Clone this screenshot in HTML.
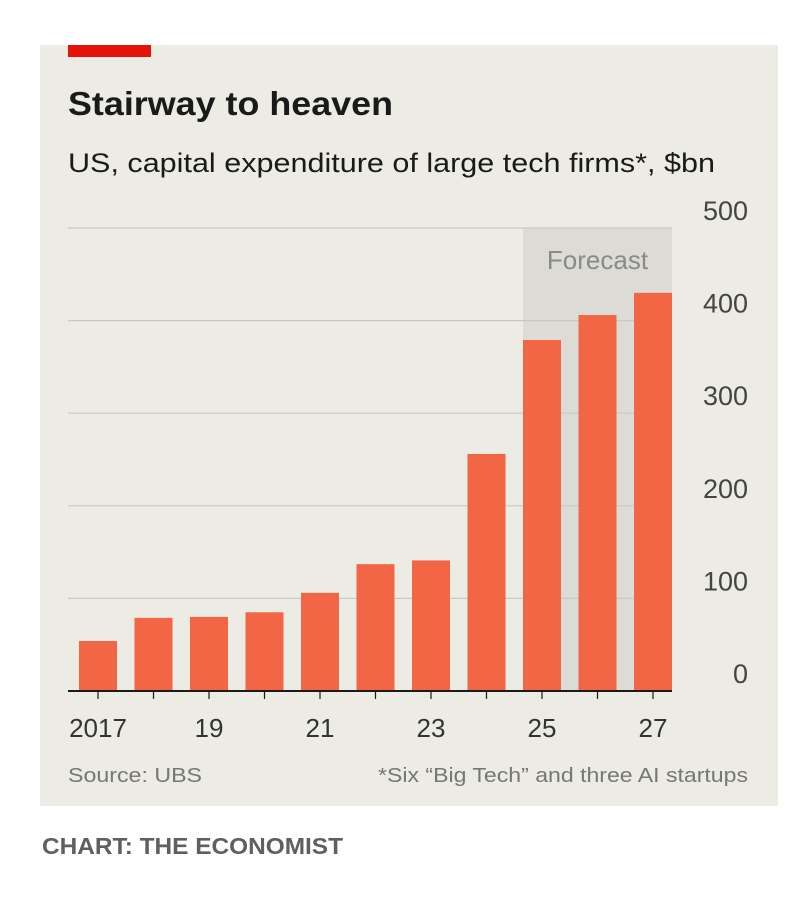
<!DOCTYPE html>
<html><head><meta charset="utf-8"><style>
body{margin:0;background:#fff;width:810px;height:894px;overflow:hidden;font-family:"Liberation Sans",sans-serif}
</style></head><body>
<svg width="810" height="894" xmlns="http://www.w3.org/2000/svg">
<rect x="40" y="45" width="738" height="761" fill="#ecebe4"/>
<rect x="68" y="45" width="83" height="12" fill="#e3120b"/>
<text x="68" y="115" font-size="33" font-weight="bold" fill="#1a1a1a" textLength="325" lengthAdjust="spacingAndGlyphs">Stairway to heaven</text>
<text x="68" y="172" font-size="27" fill="#1a1a1a" textLength="647" lengthAdjust="spacingAndGlyphs">US, capital expenditure of large tech firms*, $bn</text>
<g id="shade"></g>
<g id="grid"></g>
<g id="bars"></g>
<g id="xaxis"></g>
<text x="68" y="782" font-size="20" fill="#777" textLength="134" lengthAdjust="spacingAndGlyphs">Source: UBS</text>
<text x="748" y="782" font-size="20" fill="#777" text-anchor="end" textLength="370" lengthAdjust="spacingAndGlyphs">*Six “Big Tech” and three AI startups</text>
<text x="42" y="854" font-size="23" font-weight="bold" fill="#5f5f5f" textLength="301" lengthAdjust="spacingAndGlyphs">CHART: THE ECONOMIST</text>
</svg>
<script>
const years=[2017,2018,2019,2020,2021,2022,2023,2024,2025,2026,2027];
const values=[54,79,80,85,106,137,141,256,379,406,430];
const yTicks=[0,100,200,300,400,500];
const xLabels=["2017","","19","","21","","23","","25","","27"];
const forecastStart=2025;
const NS="http://www.w3.org/2000/svg";
const y0=691,yTop=228,yMax=500,x0=98,step=55.5,bw=38;
const y=v=>y0-(v/yMax)*(y0-yTop);
const x=i=>x0+i*step;
function mk(t,a,p){const e=document.createElementNS(NS,t);for(const k in a)e.setAttribute(k,a[k]);p.appendChild(e);return e;}
const grid=document.getElementById('grid'),bars=document.getElementById('bars'),xa=document.getElementById('xaxis'),sh=document.getElementById('shade');
const fi=years.indexOf(forecastStart);
const s=mk('rect',{x:x(fi)-bw/2,y:yTop,width:x(years.length-1)+bw/2-(x(fi)-bw/2),height:y0-yTop,fill:'#dcdbd5'},sh);


const ft=mk('text',{x:(x(fi)+x(years.length-1))/2,y:269,'font-size':26,fill:'#8a8a8a','text-anchor':'middle'},sh);ft.textContent='Forecast';


yTicks.forEach(t=>{
 if(t>0){const l=mk('line',{x1:68,x2:672,y1:y(t),y2:y(t),stroke:'#c9c8c2','stroke-width':1.2},grid);
 
 }
 const tx=mk('text',{x:748,y:y(t)-8,'font-size':27,fill:'#444','text-anchor':'end'},grid);tx.textContent=t;
 
 
});
values.forEach((v,i)=>{
 const r=mk('rect',{x:x(i)-bw/2,y:y(v),width:bw,height:y0-y(v),fill:'#f26645'},bars);
 
 
 const tk=mk('line',{x1:x(i),x2:x(i),y1:y0,y2:y0+8,stroke:'#1a1a1a','stroke-width':1.2},xa);
 
 
 if(xLabels[i]){const t=mk('text',{x:x(i),y:737,'font-size':26,fill:'#333','text-anchor':'middle'},xa);t.textContent=xLabels[i];
 
 }
});
const ax=mk('line',{x1:68,x2:672,y1:y0,y2:y0,stroke:'#1a1a1a','stroke-width':2},xa);


</script>
</body></html>
